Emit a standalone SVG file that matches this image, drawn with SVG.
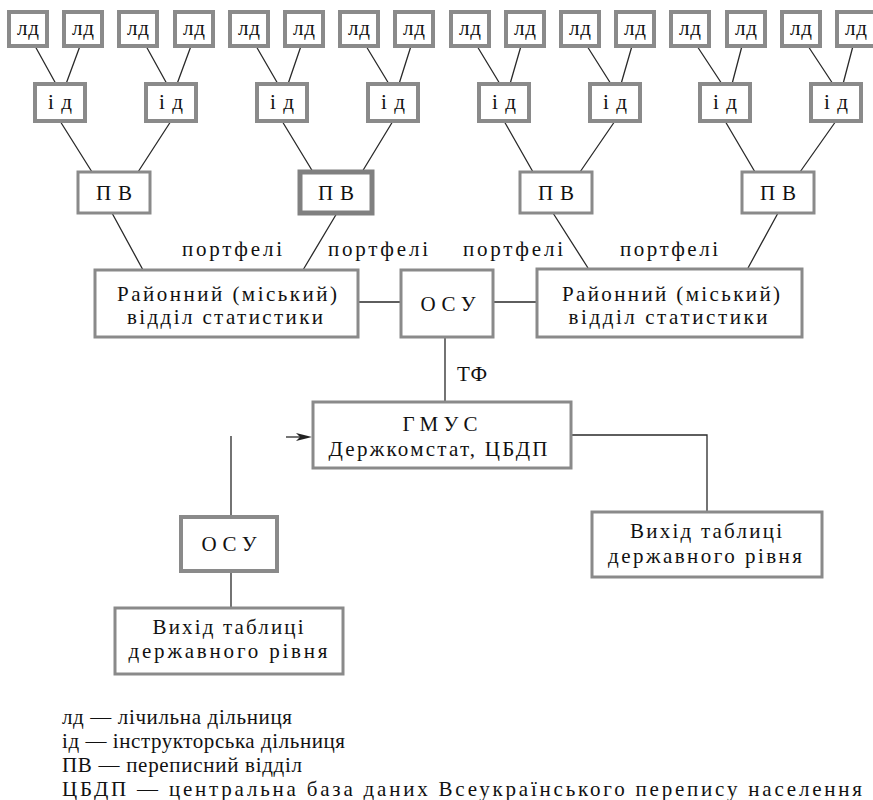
<svg xmlns="http://www.w3.org/2000/svg" width="873" height="800" viewBox="0 0 873 800" font-family="'Liberation Serif', 'Times New Roman', serif">
<style>
text{font-size:21px;fill:#111}
.c{text-anchor:middle}
.b{fill:#fff;stroke:#8a8a8a;stroke-width:4}
.b3{fill:#fff;stroke:#8a8a8a;stroke-width:3}
.b5{fill:#fff;stroke:#808080;stroke-width:5}
.l{stroke:#2a2a2a;stroke-width:1.3;fill:none}
</style>
<rect width="873" height="800" fill="#fff"/>
<g id="connectors">
<path class="l" d="M35,46L56,84M80,46L66,84M146,46L167,84M191,46L177,84M256,46L278,84M301,46L288,84M366,46L389,84M411,46L399,84M477,46L500,84M521,46L510,84M587,46L611,84M632,46L621,84M697,46L722,84M742,46L732,84M808,46L833,84M853,46L843,84"/>
<path class="l" d="M60,121L92,172M171,121L138,172M282,121L313,172M393,121L362,172M504,121L533,172M615,121L580,172M725,121L755,172M836,121L800,172"/>
<path class="l" d="M112,213L143,270M337,213L303,270M553,213L588,268M778,213L748,268"/>
<path class="l" d="M358,302H401M493,302H537M445,337V402M571,435H707V512M231,436V517M231,571V608"/>
<path d="M286,437H300" class="l"/>
<polygon points="296,433 312,437 296,441 300,437" fill="#222"/>
</g>
<g id="ld-row">
<g id="ld1"><rect class="b" x="9" y="12" width="38" height="34"/><text class="c" x="28" y="35" textLength="22">лд</text></g>
<g id="ld2"><rect class="b" x="64" y="12" width="38" height="34"/><text class="c" x="83" y="35" textLength="22">лд</text></g>
<g id="ld3"><rect class="b" x="119" y="12" width="38" height="34"/><text class="c" x="138" y="35" textLength="22">лд</text></g>
<g id="ld4"><rect class="b" x="175" y="12" width="38" height="34"/><text class="c" x="194" y="35" textLength="22">лд</text></g>
<g id="ld5"><rect class="b" x="230" y="12" width="38" height="34"/><text class="c" x="249" y="35" textLength="22">лд</text></g>
<g id="ld6"><rect class="b" x="285" y="12" width="38" height="34"/><text class="c" x="304" y="35" textLength="22">лд</text></g>
<g id="ld7"><rect class="b" x="340" y="12" width="38" height="34"/><text class="c" x="359" y="35" textLength="22">лд</text></g>
<g id="ld8"><rect class="b" x="395" y="12" width="38" height="34"/><text class="c" x="414" y="35" textLength="22">лд</text></g>
<g id="ld9"><rect class="b" x="451" y="12" width="38" height="34"/><text class="c" x="470" y="35" textLength="22">лд</text></g>
<g id="ld10"><rect class="b" x="506" y="12" width="38" height="34"/><text class="c" x="525" y="35" textLength="22">лд</text></g>
<g id="ld11"><rect class="b" x="561" y="12" width="38" height="34"/><text class="c" x="580" y="35" textLength="22">лд</text></g>
<g id="ld12"><rect class="b" x="616" y="12" width="38" height="34"/><text class="c" x="635" y="35" textLength="22">лд</text></g>
<g id="ld13"><rect class="b" x="671" y="12" width="38" height="34"/><text class="c" x="690" y="35" textLength="22">лд</text></g>
<g id="ld14"><rect class="b" x="727" y="12" width="38" height="34"/><text class="c" x="746" y="35" textLength="22">лд</text></g>
<g id="ld15"><rect class="b" x="782" y="12" width="38" height="34"/><text class="c" x="801" y="35" textLength="22">лд</text></g>
<g id="ld16"><rect class="b" x="837" y="12" width="38" height="34"/><text class="c" x="856" y="35" textLength="22">лд</text></g>
</g>
<g id="id-row">
<g id="id1"><rect class="b" x="35" y="84" width="50" height="37"/><text class="c" x="60" y="109" textLength="24">ід</text></g>
<g id="id2"><rect class="b" x="146" y="84" width="50" height="37"/><text class="c" x="171" y="109" textLength="24">ід</text></g>
<g id="id3"><rect class="b" x="257" y="84" width="50" height="37"/><text class="c" x="282" y="109" textLength="24">ід</text></g>
<g id="id4"><rect class="b" x="368" y="84" width="50" height="37"/><text class="c" x="393" y="109" textLength="24">ід</text></g>
<g id="id5"><rect class="b" x="479" y="84" width="50" height="37"/><text class="c" x="504" y="109" textLength="24">ід</text></g>
<g id="id6"><rect class="b" x="590" y="84" width="50" height="37"/><text class="c" x="615" y="109" textLength="24">ід</text></g>
<g id="id7"><rect class="b" x="700" y="84" width="50" height="37"/><text class="c" x="725" y="109" textLength="24">ід</text></g>
<g id="id8"><rect class="b" x="811" y="84" width="50" height="37"/><text class="c" x="836" y="109" textLength="24">ід</text></g>
</g>
<g id="pv-row">
<g id="pv1"><rect class="b3" x="78" y="172" width="72" height="41"/><text class="c" x="114" y="200" textLength="36">ПВ</text></g>
<g id="pv2"><rect class="b5" x="300" y="172" width="72" height="41"/><text class="c" x="336" y="200" textLength="36">ПВ</text></g>
<g id="pv3"><rect class="b3" x="520" y="172" width="72" height="41"/><text class="c" x="556" y="200" textLength="36">ПВ</text></g>
<g id="pv4"><rect class="b3" x="742" y="172" width="72" height="41"/><text class="c" x="778" y="200" textLength="36">ПВ</text></g>
</g>
<g id="labels">
<text x="182" y="256" textLength="100">портфелі</text>
<text x="328" y="256" textLength="100">портфелі</text>
<text x="463" y="256" textLength="100">портфелі</text>
<text x="620" y="256" textLength="98">портфелі</text>
<text x="457" y="381" textLength="30">ТФ</text>
</g>
<g id="rvs1"><rect class="b3" x="95" y="270" width="263" height="67"/><text class="c" x="227" y="301" textLength="220">Районний (міський)</text><text class="c" x="225" y="324" textLength="196">відділ статистики</text></g>
<g id="osu1"><rect class="b3" x="401" y="270" width="92" height="67"/><text class="c" x="448" y="311" textLength="55">ОСУ</text></g>
<g id="rvs2"><rect class="b3" x="537" y="269" width="265" height="68"/><text class="c" x="671" y="301" textLength="218">Районний (міський)</text><text class="c" x="668" y="324" textLength="199">відділ статистики</text></g>
<g id="gmus"><rect class="b3" x="313" y="402" width="258" height="66"/><text class="c" x="440" y="431" textLength="75">ГМУС</text><text class="c" x="438" y="456" textLength="219">Держкомстат, ЦБДП</text></g>
<g id="out-right"><rect class="b3" x="592" y="512" width="230" height="65"/><text class="c" x="706" y="538" textLength="152">Вихід таблиці</text><text class="c" x="705" y="563" textLength="194">державного рівня</text></g>
<g id="osu2"><rect class="b" x="181" y="517" width="96" height="54"/><text class="c" x="229" y="551" textLength="55">ОСУ</text></g>
<g id="out-left"><rect class="b3" x="115" y="608" width="228" height="66"/><text class="c" x="228" y="634" textLength="151">Вихід таблиці</text><text class="c" x="228" y="658" textLength="199">державного рівня</text></g>
<g id="legend">
<text x="62" y="724" textLength="230">лд — лічильна дільниця</text>
<text x="62" y="748" textLength="283">ід — інструкторська дільниця</text>
<text x="62" y="772" textLength="240">ПВ — переписний відділ</text>
<text x="62" y="796" textLength="800">ЦБДП — центральна база даних Всеукраїнського перепису населення</text>
</g>
</svg>
